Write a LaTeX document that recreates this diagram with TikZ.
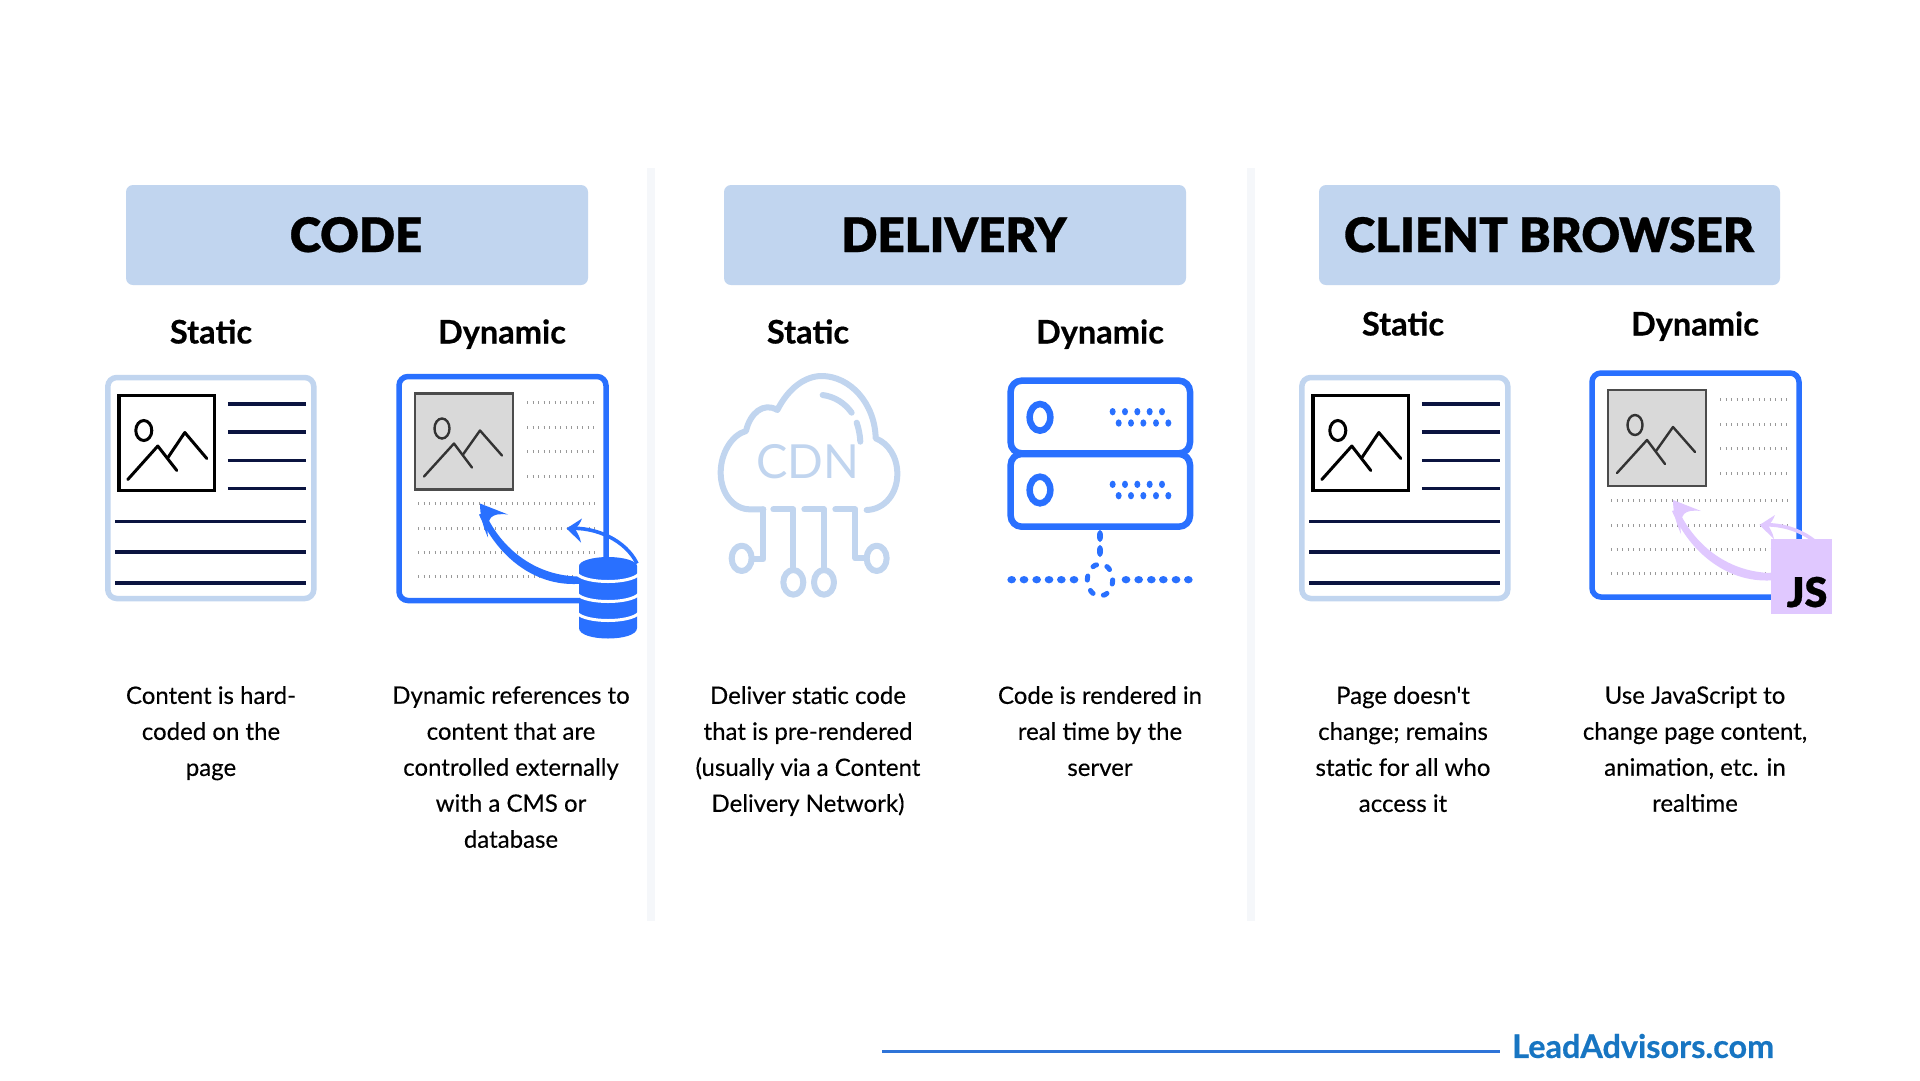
\documentclass[tikz,border=0pt]{standalone}
\usepackage{fontspec}
\setmainfont{Lato}
\newfontfamily\bodyfont[FakeBold=0.25]{Lato}
\newfontfamily\headfont[FakeBold=0.6]{Lato Black}
\newfontfamily\boldfont[FakeBold=0.5]{Lato Bold}
\newfontfamily\cdnfont{Lato}
\definecolor{pale}{HTML}{C1D5EF}
\definecolor{brandblue}{HTML}{2970FF}
\definecolor{navy}{HTML}{0B1440}
\definecolor{lilac}{HTML}{E0C8FF}
\definecolor{divider}{HTML}{F5F7FA}
\definecolor{footblue}{HTML}{1775C2}
\definecolor{footline}{HTML}{2F74D8}
\tikzset{
  headbox/.style={fill=pale,rounded corners=7pt,draw=none},
  headtext/.style={font=\headfont\fontsize{47.5}{50}\selectfont,text=black,inner sep=0pt,anchor=base},
  sublabel/.style={font=\boldfont\fontsize{32.5}{36}\selectfont,text=black,inner sep=0pt,anchor=base},
  bodytext/.style={font=\bodyfont\fontsize{24}{36}\selectfont,align=center,text=black,inner sep=0pt,anchor=north},
  navyline/.style={draw=navy,line width=3.4pt},
  staticframe/.style={draw=pale,line width=5.5pt,rounded corners=9pt},
  dynframe/.style={draw=brandblue,line width=5.5pt,rounded corners=9pt},
  dotrow/.style={draw=gray!80,line width=3pt,dash pattern=on 1.2pt off 4.3pt},
  ringline/.style={draw=pale,line width=6pt,line cap=round,line join=round},
  srv/.style={draw=brandblue,line width=6.5pt,rounded corners=11pt},
}
% static page, origin at frame top-left
\newcommand{\staticpage}[2]{%
\begin{scope}[shift={(#1,#2)}]
  \draw[staticframe] (0,0) rectangle (206,221);
  \draw[black,line width=3.2pt] (11.2,18) rectangle (106.7,113);
  \draw[black,line width=3pt] (36,53) ellipse [x radius=8,y radius=10];
  \draw[black,line width=3pt,line cap=round,line join=round] (20,102) -- (50,68.5) -- (69,93);
  \draw[black,line width=3pt,line cap=round,line join=round] (60.5,79.5) -- (77,55) -- (99,81);
  \foreach \yy in {26.5,54.5,83,111}{\draw[navyline] (120,\yy) -- (198,\yy);}
  \foreach \yy in {144,174.5,205.5}{\draw[navyline] (7.5,\yy) -- (198,\yy);}
\end{scope}}
% dynamic page
\newcommand{\dynpage}[2]{%
\begin{scope}[shift={(#1,#2)}]
  \draw[dynframe] (0,0) rectangle (207,224);
  \draw[draw=black!70,fill=black!15,line width=2.5pt] (16,17) rectangle (114,113);
  \draw[black!80,line width=2.4pt] (43,52) ellipse [x radius=7.5,y radius=10];
  \draw[black!80,line width=2.4pt,line cap=round,line join=round] (25,100) -- (55,67) -- (73,91);
  \draw[black!80,line width=2.4pt,line cap=round,line join=round] (64,78) -- (81,54) -- (103,79);
  \foreach \yy in {26,51,75,100}{\draw[dotrow] (128,\yy) -- (195,\yy);}
  \foreach \yy in {127,152,176,200}{\draw[dotrow] (19,\yy) -- (196,\yy);}
\end{scope}}
% arrows relative to dynamic frame
\newcommand{\bigarrow}[3]{%
\begin{scope}[shift={(#1,#2)}]
  \fill[#3] (86,136) .. controls (102,172) and (137,201) .. (184,200) -- (184,207) .. controls (137,212) and (98,180) .. (80,138) -- cycle;
  \fill[#3] (81,127) -- (109,138) .. controls (100,137) and (95,138) .. (92,141) .. controls (88,146) and (88,152) .. (89,161) .. controls (84,150) and (81,139) .. (81,127) -- cycle;
\end{scope}}
\newcommand{\smallarrow}[3]{%
\begin{scope}[shift={(#1,#2)}]
  \draw[#3,line width=3.6pt] (170,152) .. controls (197,150) and (227,164) .. (238,187);
  \fill[#3] (167.5,152) -- (183,142) .. controls (181,147) and (179,150) .. (176,152) .. controls (178,156) and (181,160) .. (182,166) -- cycle;
\end{scope}}
\begin{document}
\begin{tikzpicture}[x=1pt,y=-1pt]
\useasboundingbox (0,0) rectangle (1920,1080);
\fill[white] (0,0) rectangle (1920,1080);
% dividers
\fill[divider] (647,168) rectangle (655,921);
\fill[divider] (1247,168) rectangle (1255,921);
% headers
\draw[headbox] (126,185) rectangle (588,285);
\draw[headbox] (724,185) rectangle (1186,285);
\draw[headbox] (1319,185) rectangle (1780,285);
\node[headtext] (hcode) at (356,252) {CODE};
\node[headtext] (hdelivery) at (954,252) {DELIVERY};
\node[headtext] (hclient) at (1549,252) {CLIENT BROWSER};
% sub labels
\node[sublabel] (s1) at (211,343.5) {Static};
\node[sublabel] (d1) at (502,343.5) {Dynamic};
\node[sublabel] (s2) at (808,343.5) {Static};
\node[sublabel] (d2) at (1100,343.5) {Dynamic};
\node[sublabel] (s3) at (1403,335.5) {Static};
\node[sublabel] (d3) at (1695,335.5) {Dynamic};
% icons
\staticpage{107.8}{377.5}
\dynpage{399}{376.5}
\bigarrow{399}{376.5}{brandblue}
\smallarrow{399}{376.5}{brandblue}
% database
\begin{scope}[shift={(608,0)}]
  \fill[brandblue] (-29,566) -- (-29,628) .. controls (-29,642) and (29,642) .. (29,628) -- (29,566) -- cycle;
  \fill[brandblue] (0,566) ellipse [x radius=29,y radius=9];
  \foreach \yy in {574,594,613}{
    \draw[white,line width=3pt] (-31,\yy) .. controls (-22,\yy+10) and (22,\yy+10) .. (31,\yy);
  }
\end{scope}
\staticpage{1301.8}{377.5}
\dynpage{1592}{373}
\bigarrow{1592}{373}{lilac}
\smallarrow{1592}{373}{lilac}
\fill[lilac] (1771,539) rectangle (1832,614);
\node[font=\headfont\fontsize{41}{44}\selectfont,text=black,inner sep=0pt,anchor=base] (js) at (1807,607) {JS};
% CDN cloud, server
\begin{scope}[shift={(700,350)},x=0.33333pt,y=-0.33333pt]
  \draw[ringline] (190,478) -- (150,478) .. controls (100,478) and (62,430) .. (62,368) .. controls (62,310) and (95,255) .. (138,243) .. controls (150,190) and (190,155) .. (232,180) .. controls (265,115) and (315,78) .. (365,78) .. controls (450,78) and (525,160) .. (527,265) .. controls (565,280) and (592,320) .. (592,372) .. controls (592,430) and (555,478) .. (500,480);
  \draw[ringline] (190,478) -- (190,628) -- (155,628);
  \draw[ringline] (220,478) -- (280,478) -- (280,655);
  \draw[ringline] (313,478) -- (372,478) -- (372,655);
  \draw[ringline] (406,478) -- (466,478) -- (466,625) -- (497,625);
  \draw[ringline] (125,625) ellipse [x radius=30,y radius=38];
  \draw[ringline] (280,697) ellipse [x radius=30,y radius=37];
  \draw[ringline] (372,697) ellipse [x radius=30,y radius=37];
  \draw[ringline] (530,625) ellipse [x radius=30,y radius=38];
  \draw[ringline] (368,135) .. controls (405,140) and (435,160) .. (455,188);
  \draw[ringline] (470,218) .. controls (476,235) and (480,255) .. (481,275);
  \node[font=\cdnfont\fontsize{47}{50}\selectfont,text=pale,inner sep=0pt] (cdn) at (324,336) {CDN};
  % server
  \draw[srv] (932,92) rectangle (1470,310);
  \draw[srv] (932,312) rectangle (1470,530);
  \foreach \dy in {0,218}{
    \draw[brandblue,line width=6.5pt] (1020,202+\dy) ellipse [x radius=31,y radius=40];
    \foreach \xx in {1238,1275,1312,1349,1386}{\fill[brandblue] (\xx,185+\dy) ellipse [x radius=9,y radius=11];}
    \foreach \xx in {1256,1293,1330,1368,1405}{\fill[brandblue] (\xx,219+\dy) ellipse [x radius=9,y radius=11];}
  }
  \fill[brandblue] (1200,558) ellipse [x radius=9,y radius=18];
  \fill[brandblue] (1200,603) ellipse [x radius=9,y radius=18];
  \draw[brandblue,line width=5pt,line cap=round,dash pattern=on 4pt off 11pt] (1200,690) ellipse [x radius=38,y radius=48];
  \foreach \xx in {935,972,1010,1047,1084,1122,1278,1316,1354,1390,1428,1465}{
    \fill[brandblue] (\xx,689) ellipse [x radius=13,y radius=11];}
\end{scope}
% body
\node[bodytext] (b1) at (211,686) {Content is hard-\\coded on the\\page};
\node[bodytext] (b2) at (511,686) {Dynamic references to\\content that are\\controlled externally\\with a CMS or\\database};
\node[bodytext] (b3) at (808,686) {Deliver static code\\that is pre-rendered\\(usually via a Content\\Delivery Network)};
\node[bodytext] (b4) at (1100,686) {Code is rendered in\\real time by the\\server};
\node[bodytext] (b5) at (1403,686) {Page doesn't\\change; remains\\static for all who\\access it};
\node[bodytext] (b6) at (1695,686) {Use JavaScript to\\change page content,\\animation, etc. in\\realtime};
% footer
\coordinate (fa) at (882,1051);
\node[font=\boldfont\fontsize{32.4}{36}\selectfont,text=footblue,inner sep=0pt,anchor=west] (brand) at (1512,1046) {LeadAdvisors.com};
\coordinate (fb) at (1500,1051);
\draw[footline,line width=3pt] (fa) -- (fb);
\end{tikzpicture}
\end{document}
